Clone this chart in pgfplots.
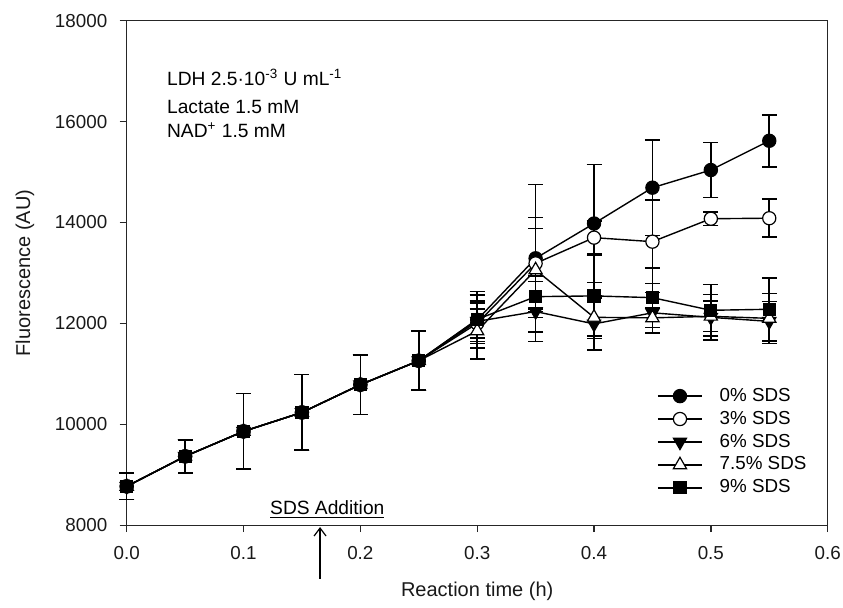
\documentclass[border=0pt]{standalone}
\usepackage{fontspec}
\setmainfont{Liberation Sans}
\usepackage{pgfplots}
\usepackage{pgfplotstable}
\pgfplotsset{compat=1.18}
\usetikzlibrary{arrows.meta}

\pgfplotstableread{
x y e
0.00 8770 260
0.05 9365 325
0.10 9860 750
0.15 10235 750
0.20 10785 590
0.25 11260 585
0.30 12070 560
0.35 13290 1460
0.40 13980 1170
0.45 14690 945
0.50 15040 545
0.55 15620 515
}\tzero
\pgfplotstableread{
x y e
0.00 8770 260
0.05 9365 325
0.10 9860 750
0.15 10235 750
0.20 10785 590
0.25 11260 585
0.30 12000 290
0.35 13190 910
0.40 13700 330
0.45 13620 830
0.50 14075 135
0.55 14085 378
}\tthree
\pgfplotstableread{
x y e
0.00 8770 260
0.05 9365 325
0.10 9860 750
0.15 10235 750
0.20 10785 590
0.25 11260 585
0.30 12040 400
0.35 12235 595
0.40 11990 515
0.45 12210 400
0.50 12120 450
0.55 12040 396
}\tsix
\pgfplotstableread{
x y e
0.00 8770 260
0.05 9365 325
0.10 9860 750
0.15 10235 750
0.20 10785 590
0.25 11260 585
0.30 11850 560
0.35 13060 825
0.40 12120 420
0.45 12110 190
0.50 12140 300
0.55 12100 495
}\tseven
\pgfplotstableread{
x y e
0.00 8770 260
0.05 9365 325
0.10 9860 750
0.15 10235 750
0.20 10785 590
0.25 11260 585
0.30 12080 480
0.35 12530 410
0.40 12545 800
0.45 12510 590
0.50 12260 515
0.55 12280 625
}\tnine

\begin{document}
\begin{tikzpicture}
\begin{axis}[
  name=ax, at={(0,0)}, anchor=south west,
  scale only axis, width=350.5pt, height=252.25pt,
  xmin=0, xmax=0.6, ymin=8000, ymax=18000,
  clip=false,
  scaled x ticks=false, scaled y ticks=false,
  axis line style={line width=0.65pt, black!85},
  xtick={0,0.1,0.2,0.3,0.4,0.5,0.6},
  ytick={8000,10000,12000,14000,16000,18000},
  xtick pos=bottom, ytick pos=left, tick align=outside,
  major tick length=3.5pt,
  tick style={line width=0.65pt, black!85},
  xticklabel={\pgfmathprintnumber[assume math mode=true,fixed,fixed zerofill,precision=1]{\tick}},
  yticklabel={\pgfmathprintnumber[assume math mode=true,fixed,precision=0,set thousands separator={}]{\tick}},
  xticklabel style={yshift=-3.8pt},
  yticklabel style={xshift=-2.7pt},
  tick label style={font=\fontsize{9.4pt}{11pt}\selectfont, text=black!90},
  xlabel={Reaction time (h)},
  ylabel={Fluorescence (AU)},
  label style={font=\fontsize{10pt}{12pt}\selectfont, text=black!90},
  xlabel style={at={(axis description cs:0.5,-0.1308)}, anchor=center},
  ylabel style={at={(axis description cs:-0.145,0.5)}, anchor=center},
  every axis plot/.append style={black, line width=0.7pt},
  error bars/y dir=both, error bars/y explicit,
  error bars/error bar style={line width=0.8pt, black},
  error bars/error mark options={rotate=90, mark size=3.75pt, line width=0.8pt, black},
  legend style={at={(axis cs:0.4538,10806)}, anchor=north west, draw=none, fill=none,
    inner sep=0pt, row sep=-0.6pt, column sep=6.5pt,
    font=\fontsize{9.4pt}{11pt}\selectfont},
  legend cell align=left,
  legend image code/.code={\draw[mark repeat=2,mark phase=2,#1] plot coordinates {(0pt,0pt) (11pt,0pt) (22pt,0pt)};},
]
\addplot[mark=*, mark size=3.3pt, mark options={solid, fill=black, line width=0.6pt}] table[x=x,y=y,y error=e] {\tzero};
\addlegendentry{0\% SDS}
\addplot[mark=*, mark size=3.3pt, mark options={solid, fill=white, line width=0.6pt}] table[x=x,y=y,y error=e] {\tthree};
\addlegendentry{3\% SDS}
\addplot[mark=triangle*, mark size=3.8pt, mark options={solid, fill=black, rotate=180, line width=0.6pt}] table[x=x,y=y,y error=e] {\tsix};
\addlegendentry{6\% SDS}
\addplot[mark=triangle*, mark size=3.8pt, mark options={solid, fill=white, line width=0.6pt}] table[x=x,y=y,y error=e] {\tseven};
\addlegendentry{7.5\% SDS}
\addplot[mark=square*, mark size=3pt, mark options={solid, fill=black, line width=0.6pt}] table[x=x,y=y,y error=e] {\tnine};
\addlegendentry{9\% SDS}

\node[anchor=base west, font=\fontsize{9.6pt}{11pt}\selectfont, inner sep=0pt] at (axis cs:0.03425,16717) {LDH 2.5·10\textsuperscript{-3} U mL\textsuperscript{-1}};
\node[anchor=base west, font=\fontsize{9.6pt}{11pt}\selectfont, inner sep=0pt] at (axis cs:0.03425,16162) {Lactate 1.5 mM};
\node[anchor=base west, font=\fontsize{9.6pt}{11pt}\selectfont, inner sep=0pt] at (axis cs:0.03425,15687) {NAD\textsuperscript{+} 1.5 mM};
\node[anchor=base, font=\fontsize{9.6pt}{11pt}\selectfont, inner sep=0pt] at (axis cs:0.1717,8222) {\underline{SDS Addition}};
\draw[line width=0.6pt, -{Straight Barb[length=4pt,width=6pt]}] (axis cs:0.1655,6935) -- (axis cs:0.1655,7964);
\end{axis}
\pgfresetboundingbox
\path (-63.35pt,-40.9pt) rectangle (358.15pt,262.6pt);
\end{tikzpicture}
\end{document}
